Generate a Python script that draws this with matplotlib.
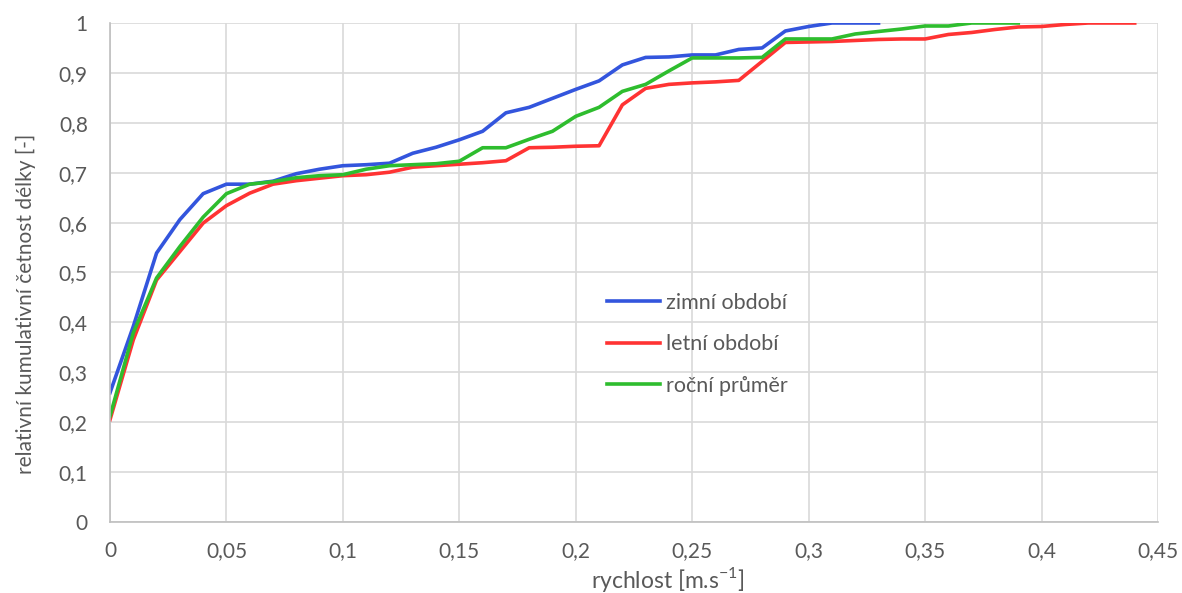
import matplotlib
matplotlib.use("Agg")
from matplotlib import pyplot as plt
from matplotlib.ticker import FuncFormatter, MultipleLocator

# rychlost [m/s], step 0.01
zimni = [0.259, 0.392, 0.539, 0.606, 0.658, 0.677, 0.677, 0.683, 0.698, 0.707,
         0.714, 0.716, 0.719, 0.739, 0.751, 0.766, 0.783, 0.820, 0.831, 0.849,
         0.867, 0.884, 0.916, 0.931, 0.932, 0.936, 0.936, 0.947, 0.950, 0.984,
         0.993, 1.0, 1.0, 1.0]
letni = [0.205, 0.365, 0.485, 0.542, 0.599, 0.634, 0.659, 0.677, 0.684, 0.689,
         0.694, 0.696, 0.701, 0.711, 0.714, 0.717, 0.720, 0.724, 0.750, 0.751,
         0.753, 0.754, 0.836, 0.869, 0.877, 0.880, 0.882, 0.885, 0.923, 0.961,
         0.962, 0.963, 0.965, 0.967, 0.968, 0.968, 0.977, 0.981, 0.987, 0.992,
         0.993, 0.997, 1.0, 1.0, 1.0]
rocni = [0.212, 0.379, 0.489, 0.552, 0.611, 0.658, 0.677, 0.682, 0.690, 0.694,
         0.696, 0.707, 0.714, 0.716, 0.718, 0.723, 0.750, 0.750, 0.767, 0.783,
         0.813, 0.831, 0.863, 0.877, 0.904, 0.930, 0.930, 0.930, 0.931, 0.968,
         0.968, 0.968, 0.978, 0.983, 0.988, 0.994, 0.994, 1.0, 1.0, 1.0]

series = [("zimní období", zimni, "#3355dd"),
          ("letní období", letni, "#ff3333"),
          ("roční průměr", rocni, "#2ebd2e")]

plt.rcParams['font.family'] = ['Lato', 'DejaVu Sans']
plt.rcParams['mathtext.fontset'] = 'custom'
plt.rcParams['mathtext.rm'] = 'Lato'
text_color = "#595959"

fig = plt.figure(figsize=(11.82, 5.93), dpi=100)
ax = fig.add_axes([110 / 1182, 71 / 593, 1048 / 1182, 499 / 593])

for name, vals, col in series:
    x = [i * 0.01 for i in range(len(vals))]
    ax.plot(x, vals, color=col, lw=2.6, label=name, solid_joinstyle="round")

ax.set_xlim(0, 0.45)
ax.set_ylim(0, 1)
ax.xaxis.set_major_locator(MultipleLocator(0.05))
ax.yaxis.set_major_locator(MultipleLocator(0.1))

def comma(v, pos):
    return ("%g" % round(v, 3)).replace(".", ",")

ax.xaxis.set_major_formatter(FuncFormatter(comma))
ax.yaxis.set_major_formatter(FuncFormatter(comma))

ax.grid(True, color="#d9d9d9", lw=1.2)
ax.set_axisbelow(True)
for s in ["top", "right"]:
    ax.spines[s].set_visible(False)
for s in ["left", "bottom"]:
    ax.spines[s].set_color("#bfbfbf")
    ax.spines[s].set_linewidth(1.2)
ax.tick_params(length=0, labelsize=15, colors=text_color)
ax.tick_params(axis="x", pad=14)
ax.tick_params(axis="y", pad=16)

ax.set_xlabel("rychlost [m.s$^{\\mathrm{-1}}$]", fontsize=16.5, color=text_color)
ax.xaxis.set_label_coords(0.532, -0.086)
ax.set_ylabel("relativní kumulativní četnost délky [-]", fontsize=15,
              color=text_color)
ax.yaxis.set_label_coords(-0.071, 0.437)

leg = ax.legend(loc="upper left", bbox_to_anchor=(0.474, 0.459), frameon=False,
                fontsize=15.5, handlelength=2.47, handletextpad=0.3,
                labelspacing=1.0, borderpad=0, borderaxespad=0)
for t in leg.get_texts():
    t.set_color(text_color)

fig.savefig("out.png", dpi=100)
